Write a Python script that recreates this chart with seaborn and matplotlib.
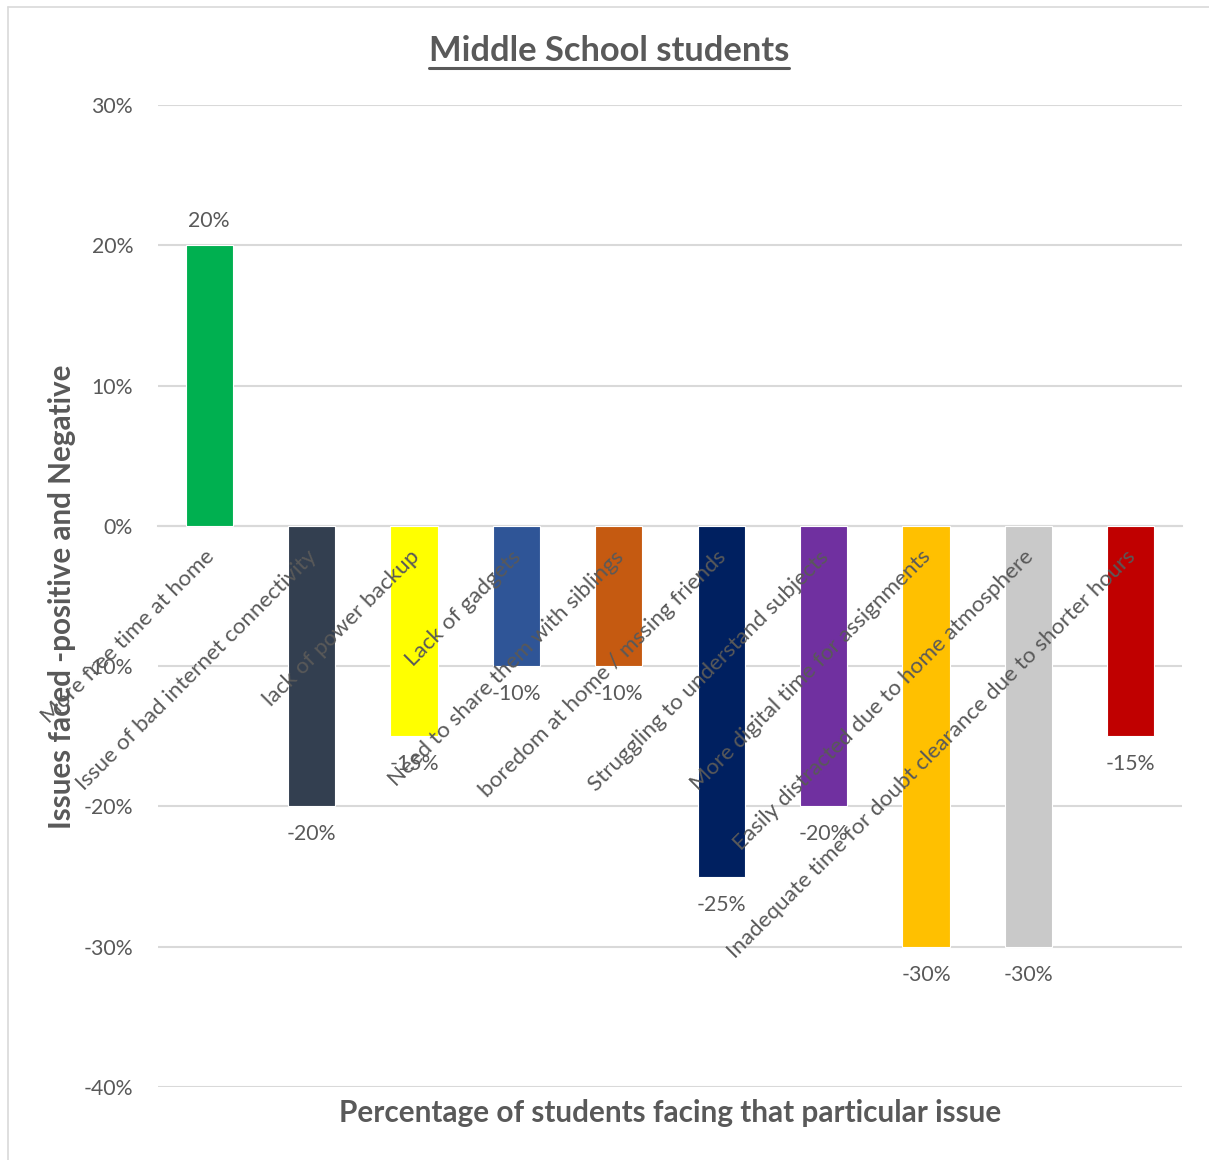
import matplotlib
matplotlib.use("Agg")
import matplotlib.pyplot as plt
from matplotlib.lines import Line2D
from matplotlib.ticker import FuncFormatter
import seaborn as sns
import pandas as pd

categories = [
    "More free time at home",
    "Issue of bad internet connectivity",
    "lack of power backup",
    "Lack of gadgets",
    "Need to share them with siblings",
    "boredom at home / mssing friends",
    "Struggling to understand subjects",
    "More digital time for assignments",
    "Easily distracted due to home atmosphere",
    "Inadequate time for doubt clearance due to shorter hours",
]
values = [20, -20, -15, -10, -10, -25, -20, -30, -30, -15]
colors = ["#00B050", "#333F50", "#FFFF00", "#2F5597", "#C55A11",
          "#002060", "#7030A0", "#FFC000", "#C9C9C9", "#C00000"]
y_ticks = [-40, -30, -20, -10, 0, 10, 20, 30]

title = "Middle School students"
x_label = "Percentage of students facing that particular issue"
y_label = "Issues faced -positive and Negative"

sns.set_theme(style="white")
plt.rcParams["font.family"] = ["Lato", "DejaVu Sans"]

TEXT = "#595959"
GRID = "#D9D9D9"

W, H = 1209, 1160
fig = plt.figure(figsize=(W / 100, H / 100), dpi=100)
ax = fig.add_axes([158 / W, 1 - 1087 / H, (1182 - 158) / W, (1087 - 105) / H])

# horizontal gridlines behind the bars
for yv in y_ticks:
    ax.axhline(yv, color=GRID, linewidth=1.5, zorder=0)

df = pd.DataFrame({"category": categories, "value": values})
sns.barplot(data=df, x="category", y="value", hue="category",
            palette=colors, saturation=1, legend=False, width=0.46, ax=ax,
            edgecolor="white", linewidth=0.8, zorder=1)

ax.set_xlim(-0.5, len(categories) - 0.5)
ax.set_ylim(-40, 30)
ax.set_yticks(y_ticks)
ax.yaxis.set_major_formatter(FuncFormatter(lambda v, _: f"{v:.0f}%"))
ax.grid(False)
ax.set_axisbelow(False)

for side in ["top", "right", "left"]:
    ax.spines[side].set_visible(False)
ax.spines["bottom"].set_position(("data", 0))
ax.spines["bottom"].set_color(GRID)
ax.spines["bottom"].set_linewidth(1.5)
ax.spines["bottom"].set_zorder(0.5)

# category boundary ticks and rotated labels on the zero line
ax.set_xticks([i - 0.5 for i in range(len(categories) + 1)])
ax.set_xticklabels([])
ax.tick_params(axis="x", which="major", length=6, width=1.5, color=GRID,
               direction="out")
ax.set_xticks([i - 0.05 for i in range(len(categories))], minor=True)
ax.set_xticklabels(categories, minor=True, rotation=45, ha="right",
                   rotation_mode="anchor", fontsize=16.2, color=TEXT)
ax.tick_params(axis="x", which="minor", length=0, pad=15)

ax.tick_params(axis="y", length=0, pad=18, labelsize=15.3, labelcolor=TEXT)
ax.set_xlabel("")
ax.set_ylabel("")

# value labels outside the bar ends
for cont, v in zip(ax.containers, values):
    ax.bar_label(cont, labels=[f"{v}%"], padding=10 if v > 0 else 13,
                 fontsize=15.3, color=TEXT)

fig.text(670 / W, 1 - 1113 / H, x_label, ha="center", va="center",
         fontsize=21.4, fontweight="bold", color=TEXT)
fig.text(62 / W, 1 - 597 / H, y_label, ha="center", va="center",
         rotation=90, fontsize=21.3, fontweight="bold", color=TEXT)
t = fig.text(609 / W, 1 - 51 / H, title, ha="center", va="center",
             fontsize=24.8, fontweight="bold", color=TEXT)

# underline the title
fig.canvas.draw()
bb = t.get_window_extent()
uy = bb.y0 - 1
fig.add_artist(Line2D([bb.x0 / W, bb.x1 / W], [uy / H, uy / H],
                      transform=fig.transFigure, color=TEXT, linewidth=2.2))

# chart frame
fig.add_artist(Line2D([8 / W, 8 / W], [0, 1 - 7 / H],
                      transform=fig.transFigure, color=GRID, linewidth=1.2))
fig.add_artist(Line2D([8 / W, 1], [1 - 7 / H, 1 - 7 / H],
                      transform=fig.transFigure, color=GRID, linewidth=1.2))

fig.savefig("out.png", dpi=100, facecolor="white")
